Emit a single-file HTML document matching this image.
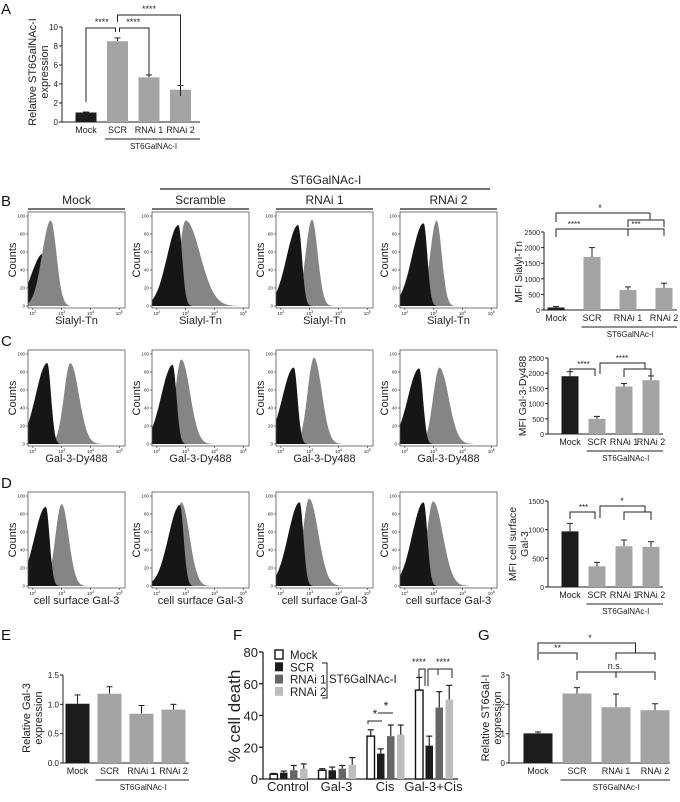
<!DOCTYPE html>
<html><head><meta charset="utf-8"><style>
html,body{margin:0;padding:0;background:#fff;}
svg{display:block;font-family:"Liberation Sans",Arial,sans-serif;}
</style></head><body>
<svg id="fig" width="680" height="802" viewBox="0 0 680 802" xmlns="http://www.w3.org/2000/svg">
<g id="static" font-size="15" fill="#111">
<text x="1" y="14">A</text>
<text x="1" y="206">B</text>
<text x="1" y="346">C</text>
<text x="1" y="488">D</text>
<text x="1" y="640">E</text>
<text x="233" y="640">F</text>
<text x="478" y="640">G</text>
</g>
</svg>
<script>
// ---------- data ----------
const barCats = ['Mock','SCR','RNAi 1','RNAi 2'];
const aValues = [1.0, 8.5, 4.7, 3.4];
const aErrors = [0.05, 0.35, 0.25, 0.45];
const aTicks = [0,2,4,6,8,10];
const bValues = [80, 1700, 640, 710];
const bErrors = [30, 300, 100, 150];
const bTicks = [0,500,1000,1500,2000,2500];
const cValues = [1900, 500, 1560, 1770];
const cErrors = [150, 80, 100, 140];
const cTicks = [0,500,1000,1500,2000,2500];
const dValues = [970, 360, 710, 700];
const dErrors = [140, 70, 110, 90];
const dTicks = [0,500,1000,1500];
const eValues = [1.01, 1.18, 0.84, 0.91];
const eErrors = [0.15, 0.12, 0.14, 0.09];
const eTicks = [0,0.5,1.0,1.5];
const eTickLabels = ['0.0','0.5','1.0','1.5'];
const gValues = [1.01, 2.37, 1.9, 1.8];
const gErrors = [0.05, 0.2, 0.45, 0.22];
const gTicks = [0,1,2,3];
const fGroups = ['Control','Gal-3','Cis','Gal-3+Cis'];
const fSeries = ['Mock','SCR','RNAi 1','RNAi 2'];
const fMock = [3, 5.5, 27, 56];
const fSCR = [4, 5.5, 16, 21];
const fRNAi1 = [5.5, 6.5, 27, 45];
const fRNAi2 = [6.5, 9, 28, 50];
const fMockErr = [0.5, 1, 4, 8];
const fSCRErr = [1, 2, 3, 6];
const fRNAi1Err = [3, 2, 7, 10];
const fRNAi2Err = [3, 4.5, 6, 9];
const fTicks = [0,20,40,60,80];
// histogram shape parameters (log10 fluorescence peak, % max height, spread)
const histRowLabels = ['Sialyl-Tn','Gal-3-Dy488','cell surface Gal-3'];
const histColLabels = ['Mock','Scramble','RNAi 1','RNAi 2'];
const blackPeak = [[2.35,2.75,2.6,2.65],[2.5,2.55,2.45,2.5],[2.45,2.8,2.65,2.65]];
const blackHeight = [[58,90,90,92],[90,88,85,84],[88,90,93,93]];
const grayPeak = [[2.62,3.0,3.08,3.1],[3.3,2.85,3.15,3.2],[3.0,2.85,2.98,2.98]];
const grayHeight = [[95,95,96,95],[90,94,96,85],[91,93,97,94]];
const grayLeftSpread = [[0.3,0.22,0.22,0.22],[0.22,0.22,0.22,0.22],[0.22,0.22,0.22,0.22]];
const graySpread = [[0.2,0.5,0.2,0.18],[0.3,0.3,0.27,0.32],[0.24,0.28,0.32,0.34]];
const blackOnTop = [[false,true,true,true],[true,true,true,true],[true,true,true,true]];

// ---------- helpers ----------
const NS='http://www.w3.org/2000/svg';
const svg=document.getElementById('fig');
function mk(tag, attrs, parent){
  const e=document.createElementNS(NS,tag);
  for(const k in attrs) e.setAttribute(k,attrs[k]);
  (parent||svg).appendChild(e);
  return e;
}
function txt(x,y,s,size,parent,anchor,rot){
  const t=mk('text',{x:x,y:y,'font-size':size,'text-anchor':anchor||'middle',fill:'#222'},parent);
  if(rot) t.setAttribute('transform','rotate(-90 '+x+' '+y+')');
  t.textContent=s;
  return t;
}
function line(x1,y1,x2,y2,w,parent){
  return mk('line',{x1:x1,y1:y1,x2:x2,y2:y2,stroke:'#222','stroke-width':w||1},parent);
}
function pl(pts,parent){
  return mk('polyline',{points:pts.map(p=>p.join(',')).join(' '),fill:'none',stroke:'#222','stroke-width':1},parent);
}

// ---------- bar chart ----------
function barChart(o, cats, vals, errs, ticks, tickLabels, name){
  const g=mk('g',{});
  
  
  const ys=v=>o.y0-(v/o.vmax)*(o.y0-o.yTop);
  const xs=i=>o.x0+o.first+i*o.step;
  line(o.x0,o.yTop,o.x0,o.y0,1,g);
  line(o.x0,o.y0,o.xEnd,o.y0,1,g);
  ticks.forEach((t,i)=>{
    line(o.x0-3,ys(t),o.x0,ys(t),1,g);
    const tl=txt(o.x0-4,ys(t)+3,tickLabels?tickLabels[i]:String(t),o.tf||8,g,'end');
    
    
  });
  vals.forEach((v,i)=>{
    const x=xs(i), y=ys(v), ye=ys(v+errs[i]);
    line(x,y,x,ye,1,g);
    line(x-3,ye,x+3,ye,1,g);
    const r=mk('rect',{x:x-o.bw/2,y:y,width:o.bw,height:o.y0-y,fill:i===0?'#1c1c1c':'#a4a4a4'},g);
    
    
    const cl=txt(x,o.labY,cats[i],o.cf||9,g);
    
    
  });
  line(xs(1)-o.bw/2-2,o.labY+6,o.xEnd,o.labY+6,1,g);
  const gt=txt((xs(1)-o.bw/2+o.xEnd)/2,o.labY+16,'ST6GalNAc-I',o.gf||8,g);
  
  
  o.title.forEach((s,i)=>{
    const tt=txt(o.tx+i*o.tdx,o.ty,s,o.ttf||11,g,'middle',true);
    
    
  });
  return {g,xs,ys};
}
function star(x,y,s,parent,size){ const t=txt(x,y,s,size||9,parent);   return t; }

// Panel A
const A=barChart({x0:62,y0:122,yTop:27,vmax:10,xEnd:200,first:24,step:31.5,bw:21,labY:133,tx:36,tdx:12,ty:72,title:['Relative ST6GalNAc-I','expression']},barCats,aValues,aErrors,aTicks,null,'panel-a-chart');
pl([[A.xs(0),102],[A.xs(0),28],[A.xs(1)-2,28],[A.xs(1)-2,32]],A.g);
pl([[A.xs(1)+2,32],[A.xs(1)+2,28],[A.xs(2),28],[A.xs(2),75]],A.g);
pl([[A.xs(1),22],[A.xs(1),15],[A.xs(3),15],[A.xs(3),96]],A.g);
star((A.xs(0)+A.xs(1))/2,25,'****',A.g); star((A.xs(1)+A.xs(2))/2,25,'****',A.g); star((A.xs(1)+A.xs(3))/2,12,'****',A.g);

// Panel B right
const B=barChart({x0:544,y0:310,yTop:232,vmax:2500,xEnd:677,first:12,step:36,bw:17,labY:321,tx:522,tdx:0,ty:272,ttf:10.5,tf:7,title:['MFI Sialyl-Tn']},barCats,bValues,bErrors,bTicks,null,'panel-b-chart');
pl([[B.xs(0),222],[B.xs(0),213],[650,213]],B.g); pl([[650,213],[650,220]],B.g);
pl([[B.xs(2),227],[B.xs(2),220],[B.xs(3),220],[B.xs(3),227]],B.g);
pl([[B.xs(0),237],[B.xs(0),229],[B.xs(3),229],[B.xs(3),236]],B.g); line(B.xs(2),229,B.xs(2),236,1,B.g);
star(600,211,'*',B.g); star((B.xs(0)+B.xs(1))/2,227,'****',B.g,8); star((B.xs(1)+B.xs(3))/2+8,227,'***',B.g,8);

// Panel C right
const C=barChart({x0:548,y0:434,yTop:358,vmax:2500,xEnd:663,first:22,step:27,bw:17,labY:445,tx:526,tdx:0,ty:396,ttf:10.5,tf:7,title:['MFI Gal-3-Dy488']},barCats,cValues,cErrors,cTicks,null,'panel-c-chart');
pl([[C.xs(0),376],[C.xs(0),369],[C.xs(1)-2,369],[C.xs(1)-2,376]],C.g);
pl([[C.xs(1)+3,374],[C.xs(1)+3,363],[645,363],[645,369]],C.g);
pl([[C.xs(2),377],[C.xs(2),369],[C.xs(3),369],[C.xs(3),377]],C.g);
star((C.xs(0)+C.xs(1))/2,367,'****',C.g,8); star(622,361,'****',C.g,8);

// Panel D right
const D=barChart({x0:548,y0:587,yTop:501,vmax:1500,xEnd:663,first:22,step:27,bw:17,labY:598,tx:516,tdx:12,ty:544,ttf:10.5,tf:7,title:['MFI cell surface','Gal-3']},barCats,dValues,dErrors,dTicks,null,'panel-d-chart');
pl([[D.xs(0),519],[D.xs(0),512],[D.xs(1)-2,512],[D.xs(1)-2,519]],D.g);
pl([[D.xs(1)+3,518],[D.xs(1)+3,506],[645,506],[645,512]],D.g);
pl([[D.xs(2),520],[D.xs(2),512],[D.xs(3),512],[D.xs(3),520]],D.g);
star((D.xs(0)+D.xs(1))/2,510,'***',D.g,8); star(622,504,'*',D.g,9);

// Panel E
barChart({x0:63,y0:763,yTop:675,vmax:1.5,xEnd:189,first:14.5,step:32,bw:24,labY:774,tx:30,tdx:12,ty:718,title:['Relative Gal-3','expression']},barCats,eValues,eErrors,eTicks,eTickLabels,'panel-e-chart');

// Panel G
const G=barChart({x0:509,y0:763,yTop:675,vmax:3,xEnd:670,first:29,step:39,bw:29,labY:774,tx:489,tdx:12,ty:718,title:['Relative ST6Gal-I','expression']},barCats,gValues,gErrors,gTicks,null,'panel-g-chart');
pl([[G.xs(0),660],[G.xs(0),653],[G.xs(1),653],[G.xs(1),660]],G.g);
pl([[G.xs(0),652],[G.xs(0),643],[(G.xs(2)+G.xs(3))/2,643],[(G.xs(2)+G.xs(3))/2,653]],G.g);
pl([[G.xs(2),660],[G.xs(2),653],[G.xs(3),653],[G.xs(3),660]],G.g);
pl([[G.xs(1),680],[G.xs(1),672],[G.xs(3),672],[G.xs(3),680]],G.g); line(G.xs(2),672,G.xs(2),678,1,G.g);
star((G.xs(0)+G.xs(1))/2,651,'**',G.g); star(590,641,'*',G.g); star(615,669,'n.s.',G.g);

// Panel F grouped bars
(function(){
  const g=mk('g',{});
  
  
  const x0=263,y0=779,yTop=652,vmax=80;
  const ys=v=>y0-v/vmax*(y0-yTop);
  const gx=i=>270+i*48.5;
  const series=[fMock,fSCR,fRNAi1,fRNAi2], errs=[fMockErr,fSCRErr,fRNAi1Err,fRNAi2Err];
  const fills=['#fff','#1c1c1c','#666','#bdbdbd'];
  line(x0,yTop,x0,y0,1.3,g); line(x0,y0,458,y0,1.3,g);
  fTicks.forEach(t=>{ line(x0-4,ys(t),x0,ys(t),1.3,g); const tl=txt(x0-5,ys(t)+5,String(t),13,g,'end');   });
  const yt=txt(240,716,'% cell death',17,g,'middle',true);
  
  
  fGroups.forEach((gn,gi)=>{
    series.forEach((s,si)=>{
      const x=gx(gi)+si*10, w=7.5, y=ys(s[gi]), ye=ys(s[gi]+errs[si][gi]);
      line(x+w/2,y,x+w/2,ye,1.2,g); line(x+w/2-3,ye,x+w/2+3,ye,1.2,g);
      const r=mk('rect',{x:x,y:y,width:w,height:y0-y,fill:fills[si],stroke:si===0?'#111':'none','stroke-width':1.4},g);
      
      
    });
    const cl=txt(gx(gi)+18,791,gn,13,g);
    
    
  });
  fSeries.forEach((s,i)=>{
    const y=650+i*12.3;
    const r=mk('rect',{x:275,y:y,width:8,height:9,fill:fills[i],stroke:i===0?'#111':'none','stroke-width':1.4},g);
    
    
    const t=txt(290,y+9,s,11.5,g,'start');
    
    
  });
  pl([[322,663],[327,663],[327,698],[322,698]],g);
  const lt=txt(329,683,'ST6GalNAc-I',11.5,g,'start');
  
  
  pl([[368,724],[368,721],[382,721]],g); star(375,718,'*',g,12);
  pl([[378,713],[393,713]],g); star(386,710,'*',g,12);
  pl([[419,678],[419,669],[425,669],[425,686]],g);
  pl([[428,686],[428,669],[452,669],[452,678]],g); line(438,669,438,675,1,g);
  star(419,665,'****',g,9); star(443,665,'****',g,9);
})();

// ---------- histograms ----------
const frameX=[28,152,276,400], frameY=[212,350,492], FW=97, FH=96, LMIN=1.83, LMAX=5.2;
function dens(x,p,h,sl,sr){ const s=x<p?sl:sr; return h*Math.exp(-(x-p)*(x-p)/(2*s*s)); }
for(let c=0;c<4;c++){
  const hx=frameX[c]+FW/2;
  const ht=txt(hx,204,histColLabels[c],12,svg);
  
  
  line(frameX[c],209,frameX[c]+FW,209,1.3);
}
line(160,189,490,189,1.3);
const sth=txt(326,184,'ST6GalNAc-I',12,svg);


for(let r=0;r<3;r++){
  for(let c=0;c<4;c++){
    const fx=frameX[c], fy=frameY[r];
    const g=mk('g',{});
    
    
    const X=l=>fx+(l-LMIN)/(LMAX-LMIN)*FW;
    const Y=v=>fy+FH-2-v/100*90;
    const N=120;
    let gp=[],bp=[];
    for(let k=0;k<=N;k++){
      const l=LMIN+(LMAX-LMIN)*k/N;
      gp.push([X(l),Y(dens(l,grayPeak[r][c],grayHeight[r][c],grayLeftSpread[r][c],graySpread[r][c]))]);
      bp.push([X(l),Y(dens(l,blackPeak[r][c],blackHeight[r][c],0.4,0.13))]);
    }
    const close=pts=>'M'+X(LMIN)+','+Y(0)+' L'+pts.map(p=>p[0].toFixed(1)+','+p[1].toFixed(1)).join(' L')+' L'+X(LMAX)+','+Y(0)+'Z';
    const drawGray=()=>{ const p=mk('path',{d:close(gp),fill:'#858585'},g);
      
       };
    const drawBlack=()=>{ const p=mk('path',{d:close(bp),fill:'#161616'},g);
      
       };
    if(blackOnTop[r][c]){ drawGray(); drawBlack(); } else { drawBlack(); drawGray(); }
    mk('rect',{x:fx,y:fy,width:FW,height:FH,fill:'none',stroke:'#555','stroke-width':0.8},g);
    [0,20,40,60,80,100].forEach(v=>{ line(fx-2,Y(v),fx,Y(v),0.6,g); txt(fx-3,Y(v)+1.5,String(v),4.5,g,'end'); });
    [2,3,4,5].forEach(d=>{ line(X(d),fy+FH,X(d),fy+FH+2,0.6,g);
      const t=txt(X(d),fy+FH+7,'10',4.5,g); const s=document.createElementNS(NS,'tspan'); s.setAttribute('dy','-2'); s.setAttribute('font-size','3.5'); s.textContent=String(d); t.appendChild(s); });
    const yt=txt(fx-12,fy+FH/2,'Counts',11,g,'middle',true);
    
    
    const xt=txt(fx+FW/2,fy+FH+16,histRowLabels[r],11,g);
    
    
  }
}
</script>
</body></html>
